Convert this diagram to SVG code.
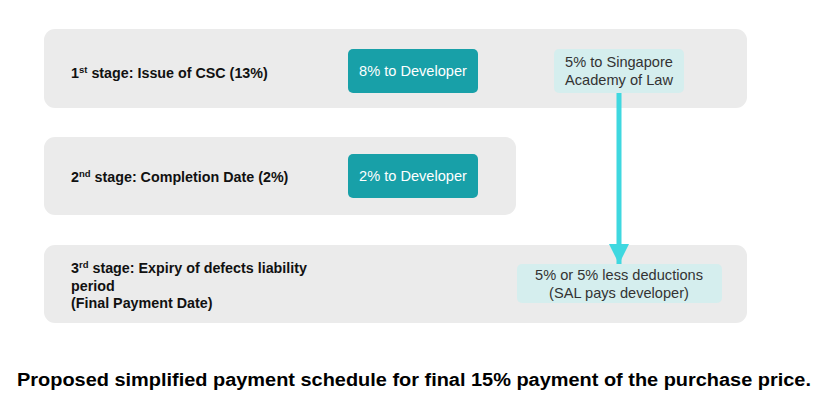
<svg xmlns="http://www.w3.org/2000/svg" width="829" height="404" viewBox="0 0 829 404">
<defs>
<style>
.bar{fill:#ebebeb}
.teal{fill:#18a0a8}
.lt{fill:#d5eeee}
.lbl{font-family:"Liberation Sans",Arial,sans-serif;font-weight:bold;font-size:14.3px;fill:#111}
.wt{font-family:"Liberation Sans",Arial,sans-serif;font-size:14.6px;fill:#fff;text-anchor:middle}
.dk{font-family:"Liberation Sans",Arial,sans-serif;font-size:14.6px;fill:#333;text-anchor:middle}
.cap{font-family:"Liberation Sans",Arial,sans-serif;font-weight:bold;font-size:18px;fill:#000;text-anchor:middle}
</style>
<marker id="ah" viewBox="0 0 10 10" refX="10" refY="5" markerWidth="4" markerHeight="4" orient="auto" markerUnits="strokeWidth">
<path d="M0,0 L10,5 L0,10 z" fill="#3fd8e0"/>
</marker>
</defs>
<rect width="829" height="404" fill="#fff"/>
<g id="stage1">
<rect class="bar" x="44" y="29" width="703" height="79" rx="11"/>
<text class="lbl" x="71" y="78">1<tspan font-size="9.5" dy="-5">st</tspan><tspan dy="5"> stage: Issue of CSC (13%)</tspan></text>
</g>
<g id="stage2">
<rect class="bar" x="44" y="137" width="472" height="78" rx="11"/>
<text class="lbl" x="71" y="182">2<tspan font-size="9.5" dy="-5">nd</tspan><tspan dy="5"> stage: Completion Date (2%)</tspan></text>
</g>
<g id="stage3">
<rect class="bar" x="44" y="245" width="703" height="78" rx="11"/>
<text class="lbl" x="71" y="273">3<tspan font-size="9.5" dy="-5">rd</tspan><tspan dy="5"> stage: Expiry of defects liability</tspan></text>
<text class="lbl" x="71" y="291">period</text>
<text class="lbl" x="71" y="308">(Final Payment Date)</text>
</g>
<g id="dev8">
<rect class="teal" x="348" y="49" width="130" height="44" rx="5"/>
<text class="wt" x="413" y="76">8% to Developer</text>
</g>
<g id="dev2">
<rect class="teal" x="348" y="154" width="130" height="44" rx="5"/>
<text class="wt" x="413" y="181">2% to Developer</text>
</g>
<g id="sal">
<rect class="lt" x="554" y="49" width="130" height="44" rx="5"/>
<text class="dk" x="619" y="67">5% to Singapore</text>
<text class="dk" x="619" y="85">Academy of Law</text>
</g>
<g id="final">
<rect class="lt" x="517" y="264" width="205" height="39" rx="5"/>
<text class="dk" x="619" y="280">5% or 5% less deductions</text>
<text class="dk" x="619" y="298">(SAL pays developer)</text>
</g>
<g id="connectors">
<line x1="619" y1="93" x2="619" y2="264" stroke="#3fd8e0" stroke-width="5" marker-end="url(#ah)"/>
</g>
<text class="cap" x="414" y="386" textLength="794" lengthAdjust="spacingAndGlyphs">Proposed simplified payment schedule for final 15% payment of the purchase price.</text>
</svg>
